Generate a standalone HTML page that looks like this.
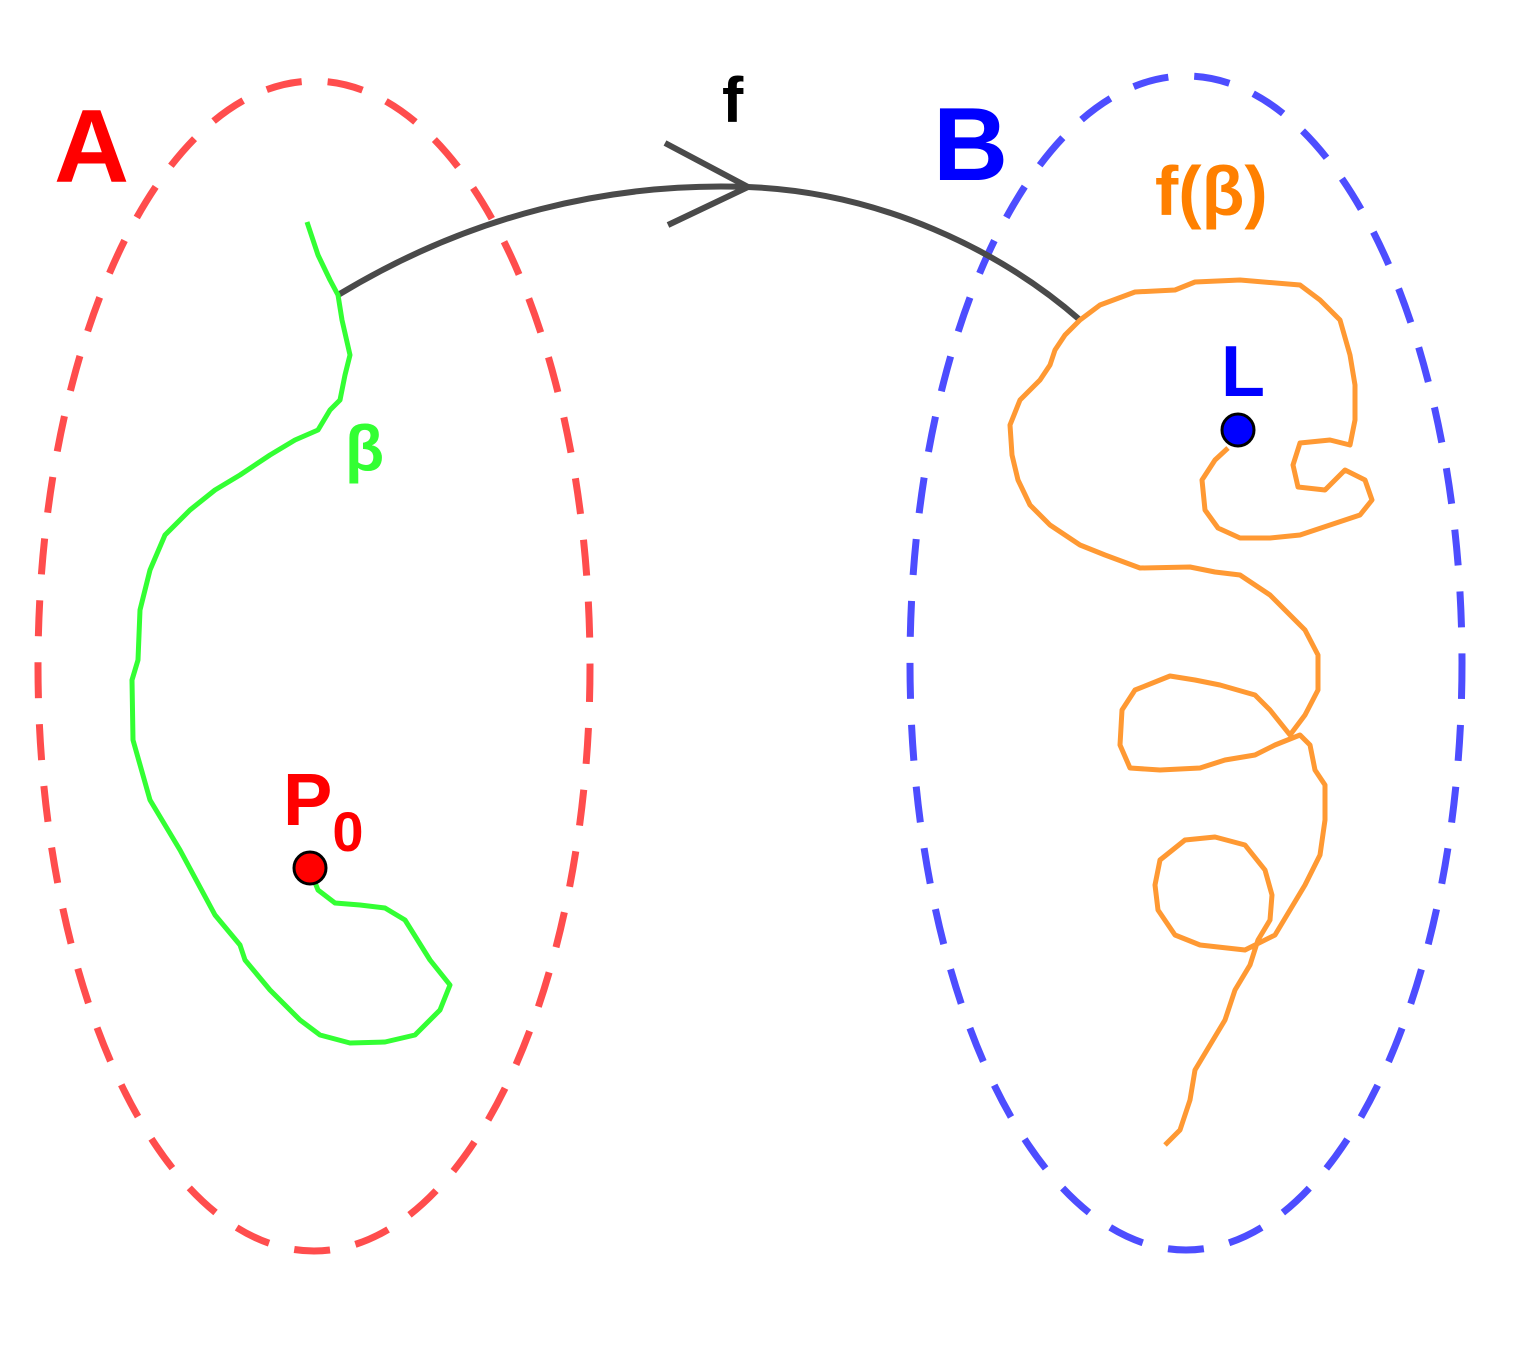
<!DOCTYPE html>
<html><head><meta charset="utf-8"><style>html,body{margin:0;padding:0;background:#fff}svg{display:block}</style></head>
<body>
<svg width="1525" height="1361" viewBox="0 0 1525 1361" xmlns="http://www.w3.org/2000/svg" font-family="Liberation Sans, sans-serif" font-weight="bold">
<ellipse cx="314" cy="666" rx="276" ry="585" fill="none" stroke="#ff4d4d" stroke-width="7" stroke-dasharray="36 26"/>
<ellipse cx="1186" cy="663" rx="276" ry="587" fill="none" stroke="#4d4dff" stroke-width="7" stroke-dasharray="36 26"/>
<path d="M338,295 C470,215 610,182 748,187 C880,192 1000,250 1080,320" fill="none" stroke="#4a4a4a" stroke-width="6"/>
<path d="M665,143 L748,187 L668,225" fill="none" stroke="#4a4a4a" stroke-width="6"/>
<polyline fill="none" stroke="#33ff33" stroke-width="5" stroke-linejoin="round" points="307,222 318,255 330,280 338,295 342,320 350,355 345,375 340,400 330,410 318,430 295,440 270,455 240,475 215,490 190,510 165,535 150,570 140,610 138,660 132,680 133,740 150,800 180,850 215,915 240,945 245,960 270,990 300,1020 320,1035 350,1043 385,1042 415,1035 440,1010 450,985 430,960 405,920 385,908 360,905 335,903 318,890 310,870"/>
<polyline fill="none" stroke="#ff9933" stroke-width="5" stroke-linejoin="round" points="1165,1145 1180,1130 1190,1100 1195,1070 1210,1045 1225,1020 1235,990 1250,965 1258,940 1270,920 1272,895 1265,870 1245,845 1215,837 1185,840 1160,860 1155,885 1158,910 1175,935 1200,945 1245,950 1275,935 1290,910 1305,885 1320,855 1325,820 1325,785 1315,770 1310,745 1300,735 1275,745 1255,755 1225,760 1200,768 1160,770 1130,768 1120,745 1122,710 1135,690 1170,676 1195,680 1220,685 1255,695 1270,710 1290,735 1305,715 1318,690 1318,655 1305,630 1285,610 1270,595 1240,575 1215,572 1190,567 1140,568 1105,555 1080,545 1050,525 1030,505 1018,480 1012,455 1010,425 1020,400 1040,380 1050,365 1055,350 1065,335 1080,320 1100,305 1135,292 1175,290 1195,282 1240,280 1300,285 1320,300 1340,320 1350,355 1355,385 1355,420 1350,445 1330,440 1300,443 1293,465 1298,487 1325,490 1345,470 1365,480 1372,500 1360,515 1330,525 1300,535 1270,538 1240,538 1218,528 1205,510 1202,480 1215,460 1228,448"/>
<circle cx="310" cy="868" r="16" fill="#ff0000" stroke="#000" stroke-width="3"/>
<circle cx="1238" cy="430" r="16" fill="#0000ff" stroke="#000" stroke-width="3"/>
<text x="54" y="182" font-size="104" fill="#ff0000">A</text>
<text x="933" y="180" font-size="104" fill="#0000ff">B</text>
<text x="722" y="122" font-size="64" fill="#000">f</text>
<text x="1155" y="215" font-size="70" fill="#ff8000">f(β)</text>
<text x="345" y="470" font-size="64" fill="#33ff33">β</text>
<text x="283" y="825" font-size="74" fill="#ff0000">P<tspan font-size="56" dy="26">0</tspan></text>
<text x="1221" y="396" font-size="72" fill="#0000ff">L</text>
</svg>
</body></html>
